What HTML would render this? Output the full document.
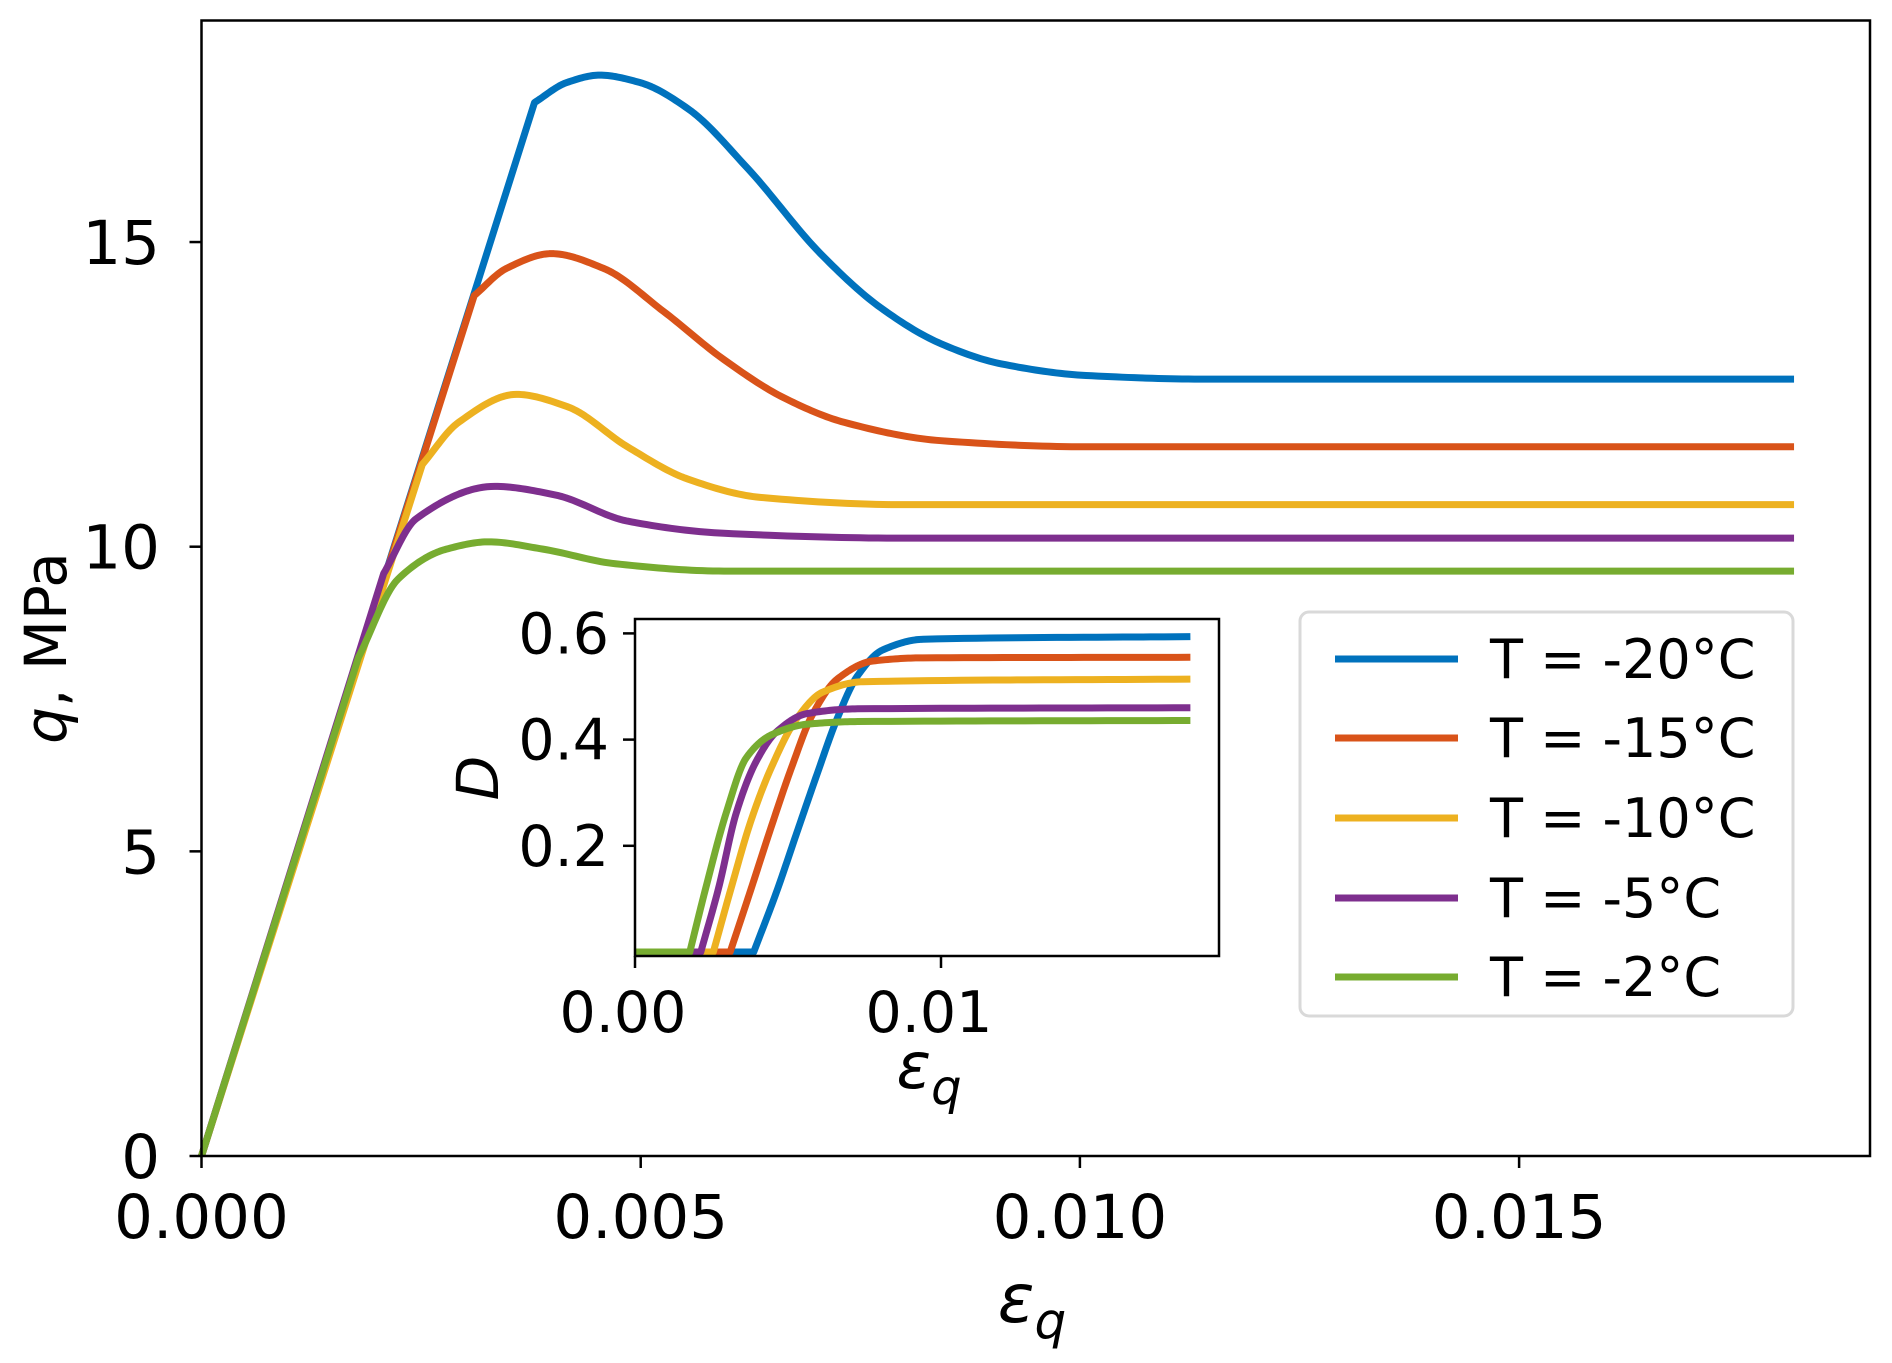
<!DOCTYPE html>
<html><head><meta charset="utf-8"><style>
html,body{margin:0;padding:0;background:#fff}
svg{display:block}
text{font-family:"DejaVu Sans","Liberation Sans",sans-serif;fill:#000}
</style></head><body>
<svg id="chart" width="1892" height="1363" viewBox="0 0 1892 1363" xmlns="http://www.w3.org/2000/svg">
<g id="main"></g><g id="inset"></g><g id="legend"></g>
</svg>
<script>
const seriesNames = ["T = -20°C","T = -15°C","T = -10°C","T = -5°C","T = -2°C"];
const colors = ["#0072bd","#d95319","#edb120","#7e2f8e","#77ac30"];
const qX0 = [0,0.003791,0.004162,0.004533,0.004986,0.005536,0.006223,0.007047,0.007734,0.00842,0.009107,0.01007,0.01144,0.01813];
const qY0 = [0,17.29,17.62,17.74,17.62,17.19,16.2,14.81,13.92,13.33,13.0,12.81,12.75,12.75];
const qX1 = [0,0.003104,0.003475,0.003984,0.004574,0.005261,0.005948,0.006635,0.00732,0.00842,0.01007,0.01813];
const qY1 = [0,14.12,14.57,14.81,14.57,13.86,13.07,12.44,12.04,11.74,11.64,11.64];
const qX2 = [0,0.002514,0.002926,0.003585,0.004162,0.004849,0.005536,0.00636,0.008008,0.01813];
const qY2 = [0,11.35,12.04,12.50,12.30,11.64,11.11,10.81,10.69,10.69];
const qX3 = [0,0.002074,0.002445,0.003338,0.004025,0.004849,0.005948,0.008008,0.01813];
const qY3 = [0,9.56,10.46,10.99,10.85,10.42,10.22,10.14,10.14];
const qX4 = [0,0.001786,0.002239,0.002788,0.003269,0.003887,0.004712,0.005948,0.01813];
const qY4 = [0,8.18,9.47,9.96,10.08,9.96,9.72,9.60,9.60];
const dX0 = [0,0.00388,0.00463,0.00529,0.00595,0.00661,0.00727,0.0081,0.00942,0.01815];
const dY0 = [0,0,0.114,0.225,0.335,0.44,0.52,0.569,0.589,0.594];
const dX1 = [0,0.00311,0.0038,0.00446,0.00512,0.00579,0.00661,0.00777,0.00942,0.01815];
const dY1 = [0,0,0.12,0.237,0.348,0.446,0.514,0.548,0.554,0.555];
const dX2 = [0,0.00256,0.00314,0.0038,0.00446,0.00529,0.00612,0.00744,0.01815];
const dY2 = [0,0,0.12,0.249,0.348,0.44,0.489,0.509,0.514];
const dX3 = [0,0.00215,0.00273,0.00331,0.00397,0.00463,0.00562,0.00727,0.01815];
const dY3 = [0,0,0.12,0.262,0.36,0.415,0.449,0.458,0.46];
const dX4 = [0,0.00179,0.00231,0.00298,0.00364,0.00446,0.00562,0.00727,0.01815];
const dY4 = [0,0,0.12,0.262,0.366,0.409,0.429,0.434,0.436];
const mainXTicks = [0,0.005,0.010,0.015];
const mainXTickLabels = ["0.000","0.005","0.010","0.015"];
const mainYTicks = [0,5,10,15];
const mainYTickLabels = ["0","5","10","15"];
const insetXTicks = [0,0.01];
const insetXTickLabels = ["0.00","0.01"];
const insetYTicks = [0.2,0.4,0.6];
const insetYTickLabels = ["0.2","0.4","0.6"];

const NS="http://www.w3.org/2000/svg";
function mk(tag,attrs,parent){const e=document.createElementNS(NS,tag);for(const k in attrs)e.setAttribute(k,attrs[k]);parent.appendChild(e);return e;}
const mx=v=>201.5+v*87840, my=v=>1156-v*60.93;
const ix=v=>635+v*30600, iy=v=>952-v*531;
function pathFor(xs,ys,fx,fy){
  let d="M"+fx(xs[0])+","+fy(ys[0])+" L"+fx(xs[1])+","+fy(ys[1]);
  const X=xs.slice(1),Y=ys.slice(1),n=X.length;
  const dl=[],m=[];
  for(let i=0;i<n-1;i++)dl.push((Y[i+1]-Y[i])/(X[i+1]-X[i]));
  m[0]=dl[0];m[n-1]=dl[n-2];
  for(let i=1;i<n-1;i++){
    if(dl[i-1]*dl[i]<=0)m[i]=0;
    else{const w1=2*(X[i+1]-X[i])+(X[i]-X[i-1]),w2=(X[i+1]-X[i])+2*(X[i]-X[i-1]);m[i]=(w1+w2)/(w1/dl[i-1]+w2/dl[i]);}
  }
  for(let i=0;i<n-1;i++){
    const h=X[i+1]-X[i];
    for(let k=1;k<=20;k++){
      const t=k/20,t2=t*t,t3=t2*t;
      const y=(2*t3-3*t2+1)*Y[i]+(t3-2*t2+t)*h*m[i]+(-2*t3+3*t2)*Y[i+1]+(t3-t2)*h*m[i+1];
      d+=" L"+fx(X[i]+t*h).toFixed(2)+","+fy(y).toFixed(2);
    }
  }
  return d;
}
const main=document.getElementById('main');
const qXs=[qX0,qX1,qX2,qX3,qX4], qYs=[qY0,qY1,qY2,qY3,qY4];
for(let s=0;s<5;s++){
  const e=mk('path',{d:pathFor(qXs[s],qYs[s],mx,my),fill:'none',stroke:colors[s],'stroke-width':7,'stroke-linejoin':'round'},main);
  
  
}
const frame=mk('rect',{x:201.5,y:20.5,width:1668.5,height:1135.5,fill:'none',stroke:'#000','stroke-width':2.5},main);


mainXTicks.forEach((v,i)=>{
  mk('line',{x1:mx(v),x2:mx(v),y1:1156,y2:1168,stroke:'#000','stroke-width':2.5},main);
  const t=mk('text',{x:mx(v),y:1238,'font-size':61,'text-anchor':'middle'},main);t.textContent=mainXTickLabels[i];
  
  
});
mainYTicks.forEach((v,i)=>{
  mk('line',{x1:189.5,x2:201.5,y1:my(v),y2:my(v),stroke:'#000','stroke-width':2.5},main);
  const t=mk('text',{x:160,y:my(v)+22,'font-size':61,'text-anchor':'end'},main);t.textContent=mainYTickLabels[i];
  
  
});
const xl=mk('text',{x:1032,y:1322,'font-size':68,'text-anchor':'middle','font-style':'italic'},main);
xl.innerHTML='ε<tspan font-size="50" dy="16">q</tspan>';


const yl=mk('text',{x:0,y:0,'font-size':58,'text-anchor':'middle',transform:'translate(66,648) rotate(-90)'},main);
yl.innerHTML='<tspan font-style="italic">q</tspan>, MPa';



const inset=document.getElementById('inset');
const bg=mk('rect',{x:635,y:619,width:584,height:337,fill:'#fff'},inset);


const dXs=[dX0,dX1,dX2,dX3,dX4], dYs=[dY0,dY1,dY2,dY3,dY4];
for(let s=0;s<5;s++){
  const e=mk('path',{d:pathFor(dXs[s],dYs[s],ix,iy),fill:'none',stroke:colors[s],'stroke-width':7,'stroke-linejoin':'round'},inset);
  
  
}
const iframe=mk('rect',{x:635,y:619,width:584,height:337,fill:'none',stroke:'#000','stroke-width':2.5},inset);


insetXTicks.forEach((v,i)=>{
  mk('line',{x1:ix(v),x2:ix(v),y1:956,y2:968,stroke:'#000','stroke-width':2.5},inset);
  const t=mk('text',{x:ix(v)-12,y:1032,'font-size':57,'text-anchor':'middle'},inset);t.textContent=insetXTickLabels[i];
  
  
});
insetYTicks.forEach((v,i)=>{
  mk('line',{x1:623,x2:635,y1:iy(v),y2:iy(v),stroke:'#000','stroke-width':2.5},inset);
  const t=mk('text',{x:609,y:iy(v)+20,'font-size':57,'text-anchor':'end'},inset);t.textContent=insetYTickLabels[i];
  
  
});
const ixl=mk('text',{x:929,y:1088,'font-size':64,'text-anchor':'middle','font-style':'italic'},inset);
ixl.innerHTML='ε<tspan font-size="48" dy="16">q</tspan>';


const iyl=mk('text',{x:0,y:0,'font-size':58,'text-anchor':'middle','font-style':'italic',transform:'translate(498,778) rotate(-90)'},inset);
iyl.textContent='D';



const lg=document.getElementById('legend');
const box=mk('rect',{x:1300,y:612,width:493,height:404,rx:9,fill:'#fff',stroke:'#d9d9d9','stroke-width':3},lg);


const ly=[659,738,818,898,977];
for(let s=0;s<5;s++){
  const g=mk('g',{},lg);
  
  
  mk('line',{x1:1335,x2:1458,y1:ly[s],y2:ly[s],stroke:colors[s],'stroke-width':7},g);
  const t=mk('text',{x:1490,y:ly[s]+19,'font-size':54},g);t.textContent=seriesNames[s];
}
</script>
</body></html>
